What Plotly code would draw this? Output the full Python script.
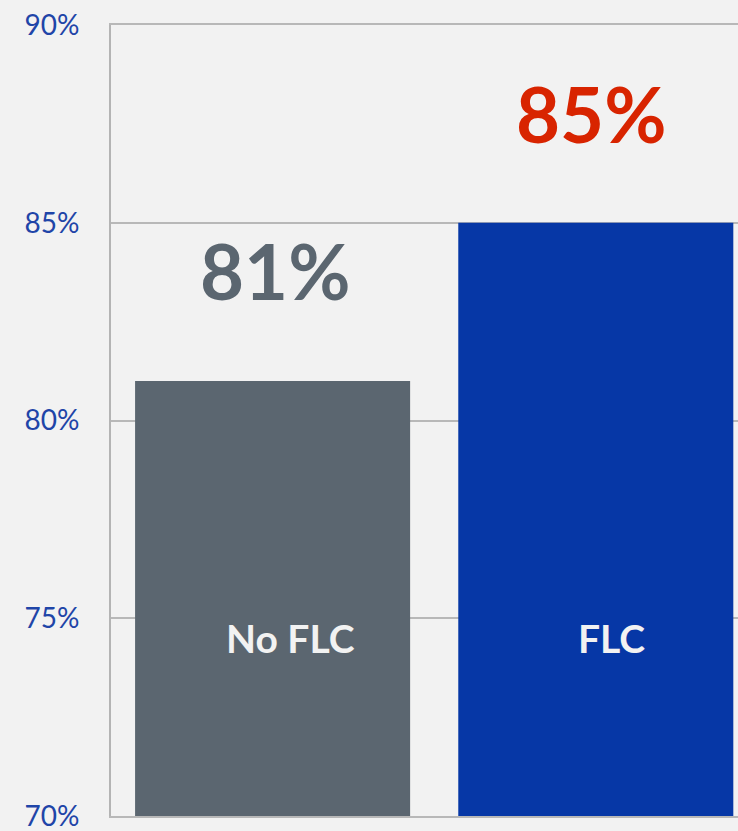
import plotly.graph_objects as go

categories = ["No FLC", "FLC"]
values = [81, 85]
value_labels = ["81%", "85%"]
bar_colors = ["#5b6670", "#0637a6"]
value_label_colors = ["#5b6670", "#d82400"]
tick_vals = [70, 75, 80, 85, 90]
tick_text = ["70%", "75%", "80%", "85%", "90%"]

FONT = "Lato"

fig = go.Figure()
fig.add_trace(go.Bar(
    x=categories, y=values, marker=dict(color=bar_colors, line=dict(width=0)),
    hoverinfo="skip", showlegend=False,
))

# value labels above bars
value_label_y = [83.8, 87.75]
for i, (c, lab) in enumerate(zip(categories, value_labels)):
    fig.add_annotation(x=c, y=value_label_y[i], text=f"<b>{lab}</b>", showarrow=False,
                       font=dict(family=FONT, size=76, color=value_label_colors[i]),
                       xshift=[2, -5][i], yanchor="middle")

# category labels inside bars
cat_label_y = 74.5
for i, c in enumerate(categories):
    fig.add_annotation(x=c, y=cat_label_y, text=f"<b>{c}</b>", showarrow=False,
                       font=dict(family=FONT, size=39, color="#f2f2f2"),
                       xshift=[18, 16][i], yanchor="middle")

fig.update_layout(
    width=738, height=831,
    margin=dict(l=111, r=0, t=25, b=15),
    paper_bgcolor="#f2f2f2", plot_bgcolor="#f2f2f2",
    bargap=0.149,
    font=dict(family=FONT),
)
fig.update_xaxes(range=[-0.5, 1.44], showticklabels=False, showgrid=False,
                 showline=True, mirror=True, linecolor="#b8b8b8", linewidth=2,
                 zeroline=False, ticks="")
fig.update_yaxes(range=[70, 90], tickvals=tick_vals, ticktext=tick_text,
                 tickfont=dict(family=FONT, size=28, color="#1f45a8"),
                 showgrid=True, gridcolor="#b8b8b8", gridwidth=1.5,
                 showline=True, linecolor="#b4b4b4", linewidth=2, zeroline=False,
                 ticks="", ticklabelstandoff=24, ticklabeloverflow="allow")

fig.write_html("out.html", config={"displayModeBar": False},
               post_script="document.body.style.margin='0';document.body.style.overflow='hidden';document.body.style.background='#f2f2f2';")
